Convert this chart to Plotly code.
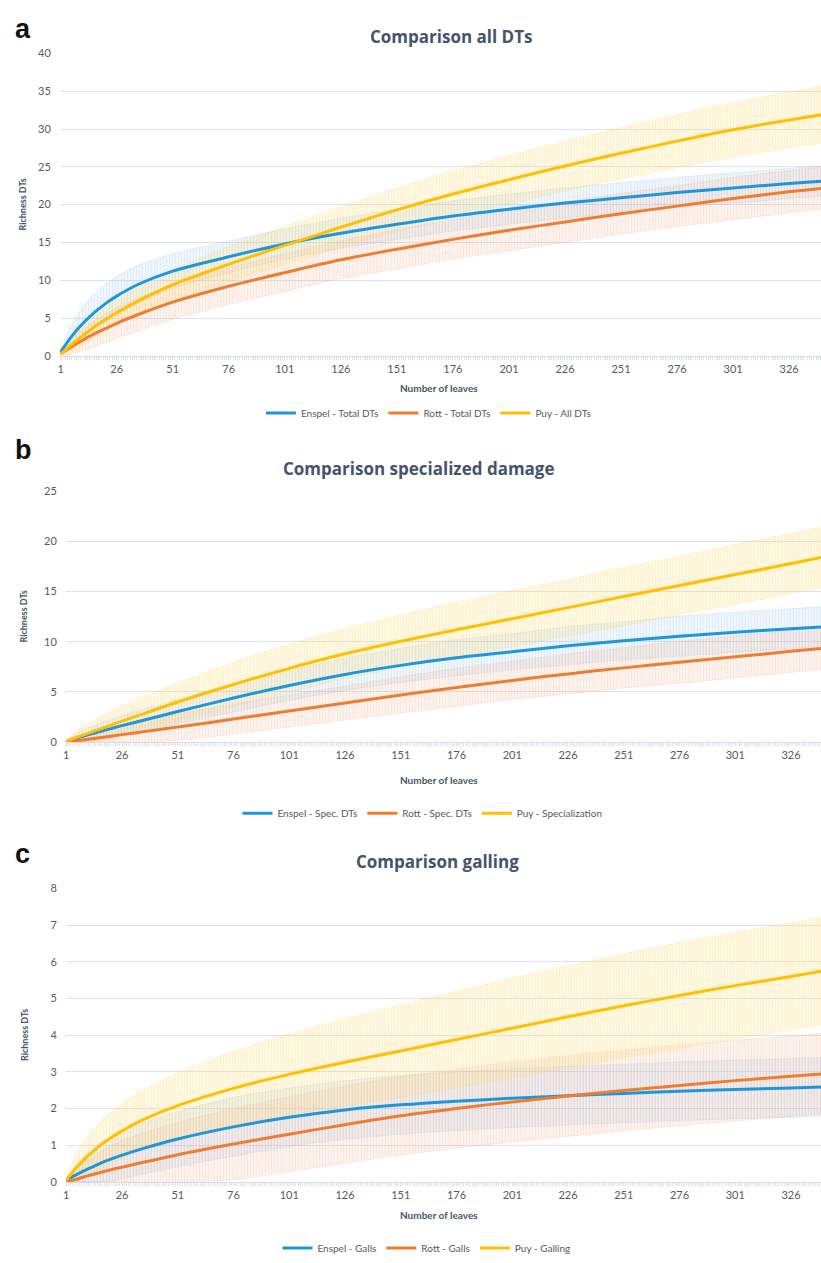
import plotly.graph_objects as go

# ---------------- data ----------------
leaves = [1, 6, 11, 16, 21, 26, 36, 51, 76, 101, 126, 151, 176, 201, 226, 251, 276, 301, 326, 345]
tick_labels = ["1", "26", "51", "76", "101", "126", "151", "176", "201", "226", "251", "276", "301", "326"]
tick_vals = [1, 26, 51, 76, 101, 126, 151, 176, 201, 226, 251, 276, 301, 326]

# panel a
enspel_total = [0.5, 2.6, 4.3, 5.7, 6.9, 7.9, 9.5, 11.2, 13.1, 14.8, 16.2, 17.4, 18.5, 19.4, 20.2, 20.9, 21.6, 22.2, 22.8, 23.2]
enspel_total_err = [0.4, 1.6, 2.2, 2.5, 2.6, 2.6, 2.5, 2.3, 2.1, 2.0, 2.0, 2.0, 2.0, 2.0, 2.0, 2.0, 2.0, 2.0, 2.0, 2.0]
rott_total = [0.3, 1.2, 2.1, 2.9, 3.6, 4.3, 5.5, 7.1, 9.2, 11.0, 12.7, 14.1, 15.4, 16.6, 17.7, 18.8, 19.8, 20.8, 21.7, 22.3]
rott_total_err = [0.3, 1.0, 1.4, 1.7, 1.9, 2.0, 2.2, 2.3, 2.4, 2.5, 2.5, 2.6, 2.6, 2.7, 2.7, 2.7, 2.7, 2.8, 2.8, 2.8]
puy_all = [0.2, 1.5, 2.7, 3.8, 4.8, 5.7, 7.3, 9.4, 12.1, 14.6, 17.0, 19.3, 21.4, 23.3, 25.1, 26.8, 28.4, 29.9, 31.2, 32.1]
puy_all_err = [0.2, 0.9, 1.2, 1.4, 1.5, 1.6, 1.8, 2.0, 2.3, 2.5, 2.7, 2.9, 3.0, 3.2, 3.3, 3.4, 3.5, 3.6, 3.7, 3.8]

# panel b
enspel_spec = [0.05, 0.4, 0.75, 1.05, 1.35, 1.65, 2.2, 3.05, 4.4, 5.65, 6.75, 7.65, 8.4, 9.0, 9.6, 10.1, 10.55, 10.95, 11.3, 11.55]
enspel_spec_err = [0.1, 0.5, 0.7, 0.8, 0.9, 1.0, 1.1, 1.2, 1.4, 1.5, 1.6, 1.7, 1.8, 1.8, 1.9, 1.9, 2.0, 2.0, 2.0, 2.0]
rott_spec = [0.0, 0.15, 0.3, 0.45, 0.6, 0.75, 1.05, 1.5, 2.3, 3.1, 3.9, 4.7, 5.45, 6.15, 6.8, 7.4, 7.95, 8.5, 9.05, 9.45]
rott_spec_err = [0.05, 0.4, 0.6, 0.8, 0.9, 1.0, 1.1, 1.3, 1.5, 1.6, 1.7, 1.8, 1.9, 1.9, 2.0, 2.0, 2.1, 2.1, 2.1, 2.1]
puy_spec = [0.1, 0.5, 0.9, 1.3, 1.7, 2.1, 2.85, 4.0, 5.75, 7.35, 8.8, 10.05, 11.2, 12.3, 13.4, 14.5, 15.6, 16.7, 17.8, 18.65]
puy_spec_err = [0.1, 0.7, 1.0, 1.2, 1.4, 1.5, 1.7, 1.9, 2.2, 2.4, 2.5, 2.6, 2.7, 2.8, 2.8, 2.9, 2.9, 3.0, 3.0, 3.0]

# panel c
enspel_galls = [0.05, 0.21, 0.36, 0.5, 0.62, 0.73, 0.92, 1.17, 1.5, 1.76, 1.96, 2.1, 2.2, 2.28, 2.35, 2.41, 2.47, 2.52, 2.56, 2.6]
enspel_galls_err = [0.05, 0.3, 0.45, 0.55, 0.6, 0.65, 0.7, 0.75, 0.8, 0.8, 0.8, 0.8, 0.8, 0.8, 0.8, 0.8, 0.8, 0.8, 0.8, 0.8]
rott_galls = [0.0, 0.08, 0.17, 0.25, 0.33, 0.4, 0.54, 0.74, 1.03, 1.3, 1.56, 1.8, 2.0, 2.18, 2.34, 2.49, 2.63, 2.76, 2.88, 2.97]
rott_galls_err = [0.02, 0.3, 0.45, 0.55, 0.65, 0.72, 0.8, 0.88, 0.97, 1.02, 1.05, 1.07, 1.08, 1.09, 1.1, 1.1, 1.1, 1.1, 1.1, 1.1]
puy_galls = [0.05, 0.42, 0.72, 0.98, 1.2, 1.39, 1.71, 2.08, 2.55, 2.93, 3.26, 3.57, 3.88, 4.19, 4.5, 4.8, 5.08, 5.35, 5.6, 5.8]
puy_galls_err = [0.1, 0.4, 0.55, 0.64, 0.7, 0.75, 0.82, 0.9, 1.0, 1.1, 1.19, 1.26, 1.32, 1.36, 1.39, 1.42, 1.44, 1.45, 1.46, 1.47]

panel_titles = ["Comparison all DTs", "Comparison specialized damage", "Comparison galling"]
panel_letters = ["a", "b", "c"]
names_a = ["Enspel - Total DTs", "Rott - Total DTs", "Puy - All DTs"]
names_b = ["Enspel - Spec. DTs", "Rott - Spec. DTs", "Puy - Specialization"]
names_c = ["Enspel - Galls", "Rott - Galls", "Puy - Galling"]
y_max = [40, 25, 8]
y_step = [5, 5, 1]

# ---------------- styling ----------------
W, H = 821, 1263
BLUE, ORANGE, YELLOW = "#1F96D8", "#ED7D31", "#FFC000"
BAND_BG = {BLUE: "rgba(150,195,235,0.12)", ORANGE: "rgba(245,175,140,0.12)", YELLOW: "rgba(255,220,110,0.16)"}
BAND_FG = {BLUE: "rgba(130,185,232,0.45)", ORANGE: "rgba(240,160,120,0.45)", YELLOW: "rgba(255,210,90,0.5)"}
BAND_EDGE = {BLUE: "rgba(130,185,232,0.3)", ORANGE: "rgba(245,165,125,0.3)", YELLOW: "rgba(255,212,85,0.35)"}
TITLE_COLOR = "#44546A"
TICK_COLOR = "#595959"
GRID = "#DCE1EC"
FONT = "Lato"

def px_x(p):
    return p / W

def px_y(p):
    return 1 - p / H

panels = [
    dict(series=[(enspel_total, enspel_total_err), (rott_total, rott_total_err), (puy_all, puy_all_err)],
         names=names_a, left=57, x1=57.8, ppc=2.25, top=47, bottom=353,
         title_xy=(450, 30), letter_y=22, xtitle_y=386, legend_y=411, legend_x=427, ytitle_x=20),
    dict(series=[(enspel_spec, enspel_spec_err), (rott_spec, rott_spec_err), (puy_spec, puy_spec_err)],
         names=names_b, left=63, x1=63.5, ppc=2.238, top=490, bottom=744,
         title_xy=(418, 467), letter_y=448, xtitle_y=782, legend_y=816, legend_x=421, ytitle_x=21),
    dict(series=[(enspel_galls, enspel_galls_err), (rott_galls, rott_galls_err), (puy_galls, puy_galls_err)],
         names=names_c, left=63, x1=63.5, ppc=2.238, top=892, bottom=1189,
         title_xy=(436, 865), letter_y=857, xtitle_y=1223, legend_y=1256, legend_x=425, ytitle_x=21),
]

fig = go.Figure()
annotations = []
colors = [BLUE, ORANGE, YELLOW]
layout_axes = {}

for i, p in enumerate(panels):
    n = i + 1
    xa = "x" if n == 1 else f"x{n}"
    ya = "y" if n == 1 else f"y{n}"
    leg = "legend" if n == 1 else f"legend{n}"
    # confidence bands (hatched like dense error bars)
    for (vals, errs), c in zip(p["series"], colors):
        lo = [max(v - e, 0) for v, e in zip(vals, errs)]
        hi = [v + e for v, e in zip(vals, errs)]
        fig.add_trace(go.Scatter(x=leaves, y=lo, mode="lines", line=dict(width=0.6, color=BAND_EDGE[c], shape="spline", smoothing=0.8),
                                 xaxis=xa, yaxis=ya, showlegend=False, hoverinfo="skip", legend=leg))
        fig.add_trace(go.Scatter(x=leaves, y=hi, mode="lines", line=dict(width=0.6, color=BAND_EDGE[c], shape="spline", smoothing=0.8),
                                 fill="tonexty",
                                 fillpattern=dict(shape="|", fgcolor=BAND_FG[c], bgcolor=BAND_BG[c], size=3, solidity=0.35),
                                 xaxis=xa, yaxis=ya, showlegend=False, hoverinfo="skip", legend=leg))
    for (vals, errs), c, name in zip(p["series"], colors, p["names"]):
        fig.add_trace(go.Scatter(x=leaves, y=vals, mode="lines", name=name,
                                 line=dict(color=c, width=3, shape="spline", smoothing=0.8),
                                 xaxis=xa, yaxis=ya, legend=leg))

    x_lo = 1 - (p["x1"] - p["left"]) / p["ppc"]
    x_hi = 1 + (W - p["x1"]) / p["ppc"]
    xkey = "xaxis" if n == 1 else f"xaxis{n}"
    ykey = "yaxis" if n == 1 else f"yaxis{n}"
    layout_axes[xkey] = dict(
        domain=[px_x(p["left"]), 1.0], range=[x_lo, x_hi], anchor=ya,
        tickvals=tick_vals, ticktext=tick_labels, showgrid=False, zeroline=False,
        showline=True, linecolor="#D6DCE8", linewidth=1,
        ticks="outside", ticklen=3, tickcolor="#D6DCE8",
        minor=dict(dtick=1, tick0=1, ticklen=3, tickcolor="#DCE3EE", ticks="outside", showgrid=False),
        tickfont=dict(family=FONT, size=11, color=TICK_COLOR),
    )
    layout_axes[ykey] = dict(
        domain=[px_y(p["bottom"]), px_y(p["top"])], range=[0, y_max[i]], anchor=xa,
        dtick=y_step[i], tick0=0, showgrid=True, gridcolor=GRID, gridwidth=1,
        zeroline=False, showline=False, ticks="", ticklabelstandoff=8,
        tickfont=dict(family=FONT, size=11, color=TICK_COLOR),
    )
    layout_axes[leg] = dict(
        orientation="h", x=px_x(p["legend_x"]), xanchor="center", y=px_y(p["legend_y"]), yanchor="middle",
        font=dict(family=FONT, size=10, color=TICK_COLOR), bgcolor="rgba(0,0,0,0)",
        itemwidth=30, traceorder="normal",
    )
    annotations.append(dict(text=f"<b>{panel_titles[i]}</b>", x=px_x(p["title_xy"][0]), y=px_y(p["title_xy"][1]),
                            xref="paper", yref="paper", showarrow=False, xanchor="center", yanchor="middle",
                            font=dict(family="Open Sans", size=17, color=TITLE_COLOR)))
    annotations.append(dict(text=f"<b>{panel_letters[i]}</b>", x=px_x(10), y=px_y(p["letter_y"]),
                            xref="paper", yref="paper", showarrow=False, xanchor="left", yanchor="middle",
                            font=dict(family="Liberation Sans", size=27, color="#111111")))
    annotations.append(dict(text="<b>Number of leaves</b>", x=px_x(438), y=px_y(p["xtitle_y"]),
                            xref="paper", yref="paper", showarrow=False, xanchor="center", yanchor="middle",
                            font=dict(family=FONT, size=10, color=TITLE_COLOR)))
    annotations.append(dict(text="<b>Richness DTs</b>", x=px_x(p["ytitle_x"]), y=px_y((p["top"] + p["bottom"]) / 2),
                            xref="paper", yref="paper", showarrow=False, xanchor="center", yanchor="middle",
                            textangle=-90, font=dict(family=FONT, size=9, color=TITLE_COLOR)))

fig.update_layout(
    width=W, height=H, margin=dict(l=0, r=0, t=0, b=0),
    paper_bgcolor="white", plot_bgcolor="white",
    annotations=annotations, showlegend=True,
    **layout_axes,
)

post_js = (
    "var gd=document.getElementById('{plot_id}');"
    "gd.style.position='fixed';gd.style.top='0px';gd.style.left='0px';"
    "document.body.style.margin='0';document.body.style.overflow='hidden';"
    "document.documentElement.style.overflow='hidden';"
)
fig.write_html("out.html", config={"displayModeBar": False}, post_script=post_js)
